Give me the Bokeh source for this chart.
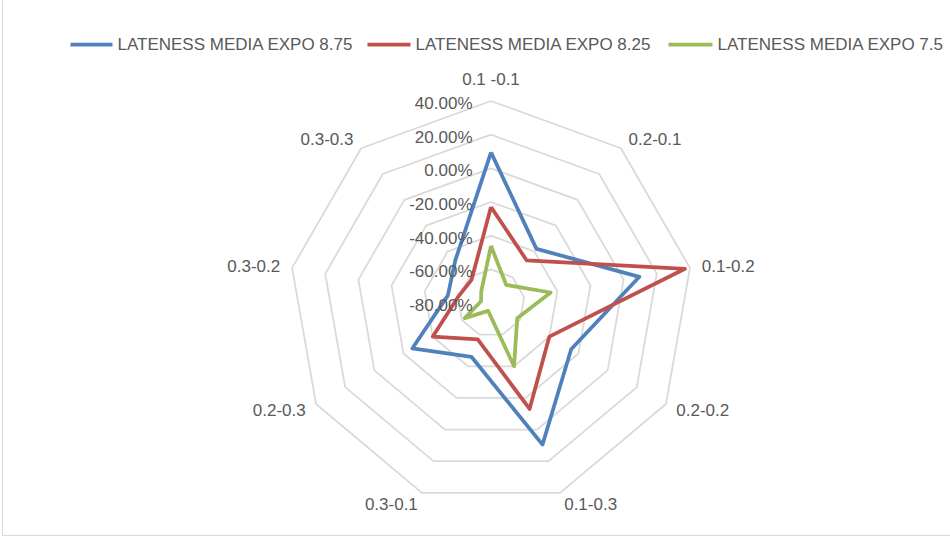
import numpy as np
from bokeh.plotting import figure
from bokeh.models import Range1d
from bokeh.core.properties import value
from bokeh.embed import file_html
from bokeh.resources import INLINE

# ---------------- data ----------------
categories = ["0.1 -0.1", "0.2-0.1", "0.1-0.2", "0.2-0.2", "0.1-0.3",
              "0.3-0.1", "0.2-0.3", "0.3-0.2", "0.3-0.3"]
series_names = ["LATENESS MEDIA EXPO 8.75", "LATENESS MEDIA EXPO 8.25",
                "LATENESS MEDIA EXPO 7.5"]
expo_875 = [9.5, -38, 9.5, -25, 9.5, -46, -26, -54, -47]
expo_825 = [-23, -47, 37, -40, -13, -57, -40, -60, -62]
expo_75 = [-46, -66, -44, -62, -40, -75, -62, -74, -71]
tick_values = [-80, -60, -40, -20, 0, 20, 40]
tick_labels = ["-80.00%", "-60.00%", "-40.00%", "-20.00%", "0.00%", "20.00%", "40.00%"]

series_values = [expo_875, expo_825, expo_75]
series_colors = ["#4f81bd", "#c0504d", "#9bbb59"]

# ---------------- layout ----------------
W, H = 950, 537
CX, CY = 490.5, 302.5          # pixel centre of the radar
R_PX = 202.0                   # pixel radius of outer ring
AXIS_MIN, AXIS_MAX = tick_values[0], tick_values[-1]
K = R_PX / (AXIS_MAX - AXIS_MIN)   # pixels per data unit

FONT = value("Liberation Sans")
FSIZE = "17px"
TXT = "#595959"
GRID = "#d9d9d9"
LW = 3.75

def px_x(px):
    return (px - CX) / K

def px_y(py):
    return (CY - py) / K

p = figure(width=W, height=H,
           x_range=Range1d(px_x(0), px_x(W)), y_range=Range1d(px_y(H), px_y(0)),
           x_axis_type=None, y_axis_type=None,
           output_backend="svg", toolbar_location=None, min_border=0)
p.grid.visible = False
p.outline_line_color = None
p.background_fill_color = "white"
p.border_fill_color = "white"

n = len(categories)
ang = np.arange(n) * 2 * np.pi / n
sin_a, cos_a = np.sin(ang), np.cos(ang)

def closed(a):
    a = list(a)
    return a + a[:1]

# rings
for tv in tick_values[1:]:
    r = tv - AXIS_MIN
    p.line(closed(r * sin_a), closed(r * cos_a), line_color=GRID, line_width=1.75)

# series
for vals, col in zip(series_values, series_colors):
    r = np.array(vals, dtype=float) - AXIS_MIN
    p.line(closed(r * sin_a), closed(r * cos_a), line_color=col, line_width=LW,
           line_join="round")

# value axis labels
tick_r = np.array(tick_values, dtype=float) - AXIS_MIN
p.text(x=[px_x(472)] * len(tick_values), y=list(tick_r - 2.5 / K), text=tick_labels,
       text_align="right", text_baseline="middle", text_font=FONT,
       text_font_size=FSIZE, text_color=TXT)

# category labels
R_U = AXIS_MAX - AXIS_MIN
for i, cat in enumerate(categories):
    s, c = sin_a[i], cos_a[i]
    if abs(s) < 1e-6:
        rl = R_U + 22 / K
        align = "center"
    else:
        rl = R_U + 12 / K
        align = "left" if s > 0 else "right"
    p.text(x=[rl * s], y=[rl * c], text=[cat], text_align=align,
           text_baseline="middle", text_font=FONT, text_font_size=FSIZE,
           text_color=TXT)

# legend (manual, horizontal)
leg_y = px_y(44)
leg_line_px = [(70, 112), (367, 410), (668, 712)]
for (x0, x1), name, col in zip(leg_line_px, series_names, series_colors):
    p.line([px_x(x0), px_x(x1)], [leg_y, leg_y], line_color=col, line_width=LW)
    p.text(x=[px_x(x1 + 5)], y=[leg_y], text=[name], text_align="left",
           text_baseline="middle", text_font=FONT, text_font_size=FSIZE,
           text_color=TXT)

# chart-area border (left and bottom edges visible)
p.line([px_x(2), px_x(2), px_x(W)], [px_y(0), px_y(535), px_y(535)],
       line_color=GRID, line_width=1)

open("out.html", "w").write(file_html(p, INLINE))
